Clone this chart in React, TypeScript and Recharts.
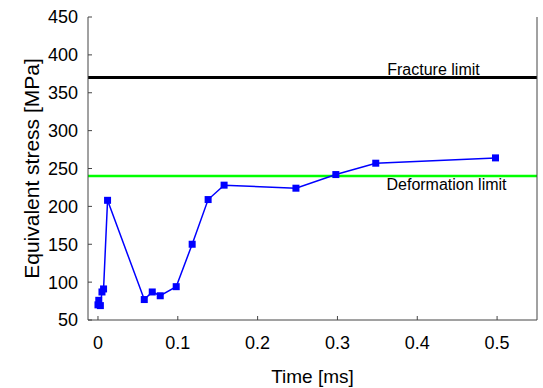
import { LineChart, Line, XAxis, YAxis, ReferenceLine } from 'recharts';

// values
const timeMs = [0, 0.001, 0.003, 0.005, 0.007, 0.012, 0.058, 0.068, 0.078, 0.098, 0.118, 0.138, 0.158, 0.248, 0.298, 0.348, 0.498];
const stressMPa = [70, 76, 69, 87, 91, 208, 77, 87, 82, 94, 150, 209, 228, 224, 242, 257, 264];
const fractureLimit = 370;
const deformationLimit = 240;
const xTicks = [0, 0.1, 0.2, 0.3, 0.4, 0.5];
const yTicks = [50, 100, 150, 200, 250, 300, 350, 400, 450];

const data = timeMs.map((t, i) => ({ time: t, stress: stressMPa[i] }));

const FONT = '"Liberation Sans", Arial, Helvetica, sans-serif';
const AXIS = '#444';

function SquareDot(props: any) {
  const { cx, cy } = props;
  if (cx == null || cy == null) return null;
  return <rect x={cx - 3.5} y={cy - 3.5} width={7} height={7} fill="#0000ff" />;
}

function YTitle(props: any) {
  const vb = props.viewBox;
  const x = 31;
  const y = vb.y + vb.height / 2;
  return (
    <text x={x} y={y} transform={`rotate(-90, ${x}, ${y})`} textAnchor="middle"
      dominantBaseline="central" fontSize={21} fill="#000" fontFamily={FONT}>
      Equivalent stress [MPa]
    </text>
  );
}

export default function App() {
  return (
    <div style={{ position: 'absolute', left: 0, top: 0, width: 543, height: 388, background: '#fff', fontFamily: FONT }}>
      <LineChart width={543} height={388} data={data} margin={{ top: 17, right: 0, left: 0, bottom: 0 }}>
        <XAxis
          dataKey="time" type="number" domain={[-0.0125, 0.55]} ticks={xTicks} allowDataOverflow
          height={68} tickSize={-4} tickMargin={20}
          tickFormatter={(v: number) => (v === 0 ? '0' : String(v))}
          tick={{ fill: '#000', fontSize: 18 }}
          axisLine={{ stroke: AXIS }} tickLine={{ stroke: AXIS }}
          label={{ value: 'Time [ms]', position: 'insideBottom', offset: 5, fill: '#000', fontSize: 19 }}
        />
        <XAxis
          xAxisId="top" orientation="top" dataKey="time" type="number" domain={[-0.0125, 0.55]} ticks={xTicks}
          allowDataOverflow height={0} tickSize={-4} tick={false}
          axisLine={{ stroke: AXIS }} tickLine={{ stroke: AXIS }}
        />
        <YAxis
          type="number" domain={[50, 450]} ticks={yTicks} allowDataOverflow width={88}
          tickSize={-4} tickMargin={14}
          tick={{ fill: '#000', fontSize: 18 }}
          axisLine={{ stroke: AXIS }} tickLine={{ stroke: AXIS }}
          label={<YTitle />}
        />
        <YAxis
          yAxisId="right" orientation="right" type="number" domain={[50, 450]} ticks={yTicks} allowDataOverflow
          width={6} tickSize={-4} tick={false}
          axisLine={{ stroke: AXIS }} tickLine={{ stroke: AXIS }}
        />
        <ReferenceLine
          y={fractureLimit} stroke="#000" strokeWidth={3}
          label={{ value: 'Fracture limit', position: 'top', offset: 3, dx: 121, fill: '#000', fontSize: 16 }}
        />
        <ReferenceLine
          y={deformationLimit} stroke="#00ff00" strokeWidth={2.5}
          label={{ value: 'Deformation limit', position: 'bottom', offset: 3, dx: 134, fill: '#000', fontSize: 16 }}
        />
        <Line
          dataKey="stress" stroke="#0000ff" strokeWidth={1.5} dot={<SquareDot />}
          activeDot={false} isAnimationActive={false}
        />
      </LineChart>
    </div>
  );
}
